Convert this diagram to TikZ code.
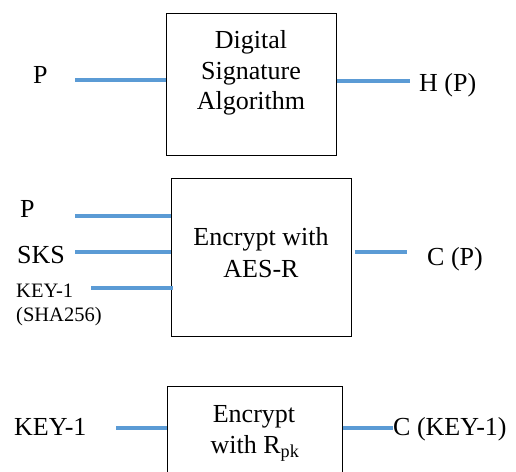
\documentclass[tikz,border=0pt]{standalone}
\usepackage{fontspec}
\setmainfont{Liberation Serif}
\definecolor{wireblue}{RGB}{91,155,213}
\begin{document}
\begin{tikzpicture}[x=1bp,y=-1bp,
  txt/.style={font=\fontsize{26bp}{30bp}\selectfont, inner sep=0pt, anchor=base},
  side/.style={font=\fontsize{26bp}{30bp}\selectfont, inner sep=0pt, anchor=base west},
  smallside/.style={font=\fontsize{20.5bp}{24bp}\selectfont, inner sep=0pt, anchor=base west},
  blk/.style={draw=black, line width=1bp, inner sep=0pt},
  wire/.style={draw=wireblue, line width=3.2bp}]
\useasboundingbox (0,0) rectangle (516,472);
\clip (0,0) rectangle (516,472);

% --- Digital signature stage ---
\node[blk, minimum width=170bp, minimum height=142bp] (dsa) at (251,85) {};
\node[txt] (dsaA) at (251,49) {Digital};
\node[txt] (dsaB) at (251,80) {Signature};
\node[txt] (dsaC) at (251,110) {Algorithm};
\node[side] (pA) at (33,84) {P};
\node[side] (hp) at (419,91.5) {H (P)};
\coordinate (pAin) at (75,80);
\coordinate (hpout) at (410,81);
\draw[wire] (pAin) -- (pAin -| dsa.west);
\draw[wire] (dsa.east |- hpout) -- (hpout);

% --- AES-R encryption stage ---
\node[blk, minimum width=180bp, minimum height=157bp] (aes) at (261,257.5) {};
\node[txt] (aesA) at (261,246) {Encrypt with};
\node[txt] (aesB) at (261,277) {AES-R};
\node[side] (pB) at (20,218) {P};
\node[side] (sks) at (17,263) {SKS};
\node[smallside] (keyA) at (16,297) {KEY-1};
\node[smallside] (sha) at (16,321) {(SHA256)};
\node[side] (cp) at (427,265) {C (P)};
\coordinate (pBin) at (75,216);
\coordinate (sksin) at (75,252);
\coordinate (keyAin) at (91,288);
\coordinate (cpout) at (407,252);
\draw[wire] (pBin) -- (pBin -| aes.west);
\draw[wire] (sksin) -- (sksin -| aes.west);
\draw[wire] (keyAin) -- ([xshift=2bp]keyAin -| aes.west);
\draw[wire] ([xshift=3bp]aes.east |- cpout) -- (cpout);

% --- Key encryption stage ---
\node[blk, minimum width=175bp, minimum height=110bp] (rpk) at (254.5,441) {};
\node[txt] (rpkA) at (254,422) {Encrypt};
\node[txt] (rpkB) at (255,453) {with R\textsubscript{pk}};
\node[side] (keyB) at (14,435) {KEY-1};
\node[side] (ck) at (393,435) {C (KEY-1)};
\coordinate (keyBin) at (116,428);
\coordinate (ckout) at (393,428);
\draw[wire] (keyBin) -- (keyBin -| rpk.west);
\draw[wire] (rpk.east |- ckout) -- (ckout);
\end{tikzpicture}
\end{document}
